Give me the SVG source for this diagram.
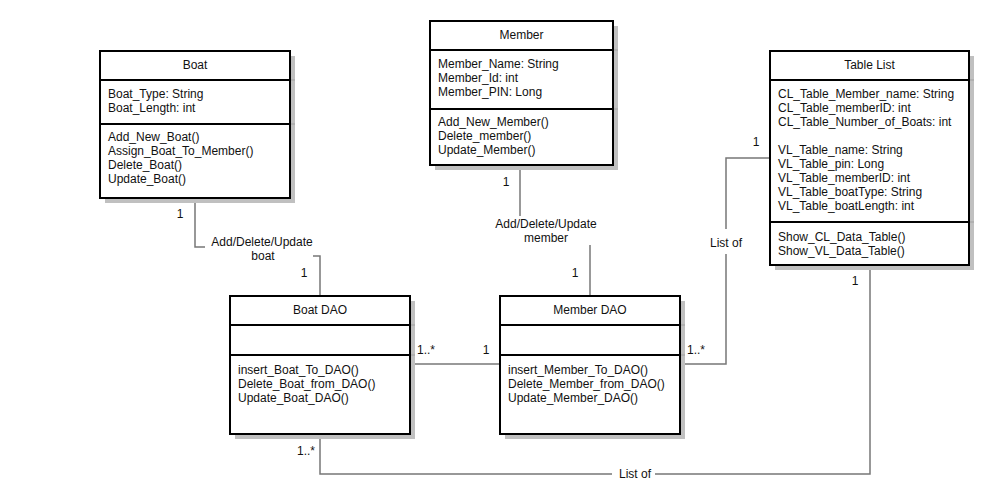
<svg xmlns="http://www.w3.org/2000/svg" width="998" height="502" viewBox="0 0 998 502">
<style>
text{font-family:"Liberation Sans",Arial,sans-serif;font-size:12px;fill:#111}
.t{text-anchor:middle}
.c{text-anchor:middle}
.box{fill:#fff;stroke:#000;stroke-width:2}
.sh{fill:#c0c0c0}
.dv{stroke:#000;stroke-width:2}
.dvs{stroke:#a0a0a0;stroke-width:1}
.ln{fill:none;stroke:#777;stroke-width:1.5}
</style>
<rect width="998" height="502" fill="#fff"/>
<g id="connectors">
<polyline class="ln" points="195,199 195,247 205,247"/>
<polyline class="ln" points="313,256 320,256 320,295"/>
<line class="ln" x1="520" y1="166" x2="520" y2="216"/>
<line class="ln" x1="590" y1="245" x2="590" y2="295"/>
<line class="ln" x1="411" y1="364" x2="499" y2="364"/>
<polyline class="ln" points="681,364 726,364 726,254"/>
<polyline class="ln" points="726,229 726,158 769,158"/>
<polyline class="ln" points="870,267 870,474 655,474"/>
<polyline class="ln" points="612,474 320,474 320,435"/>
<text x="180" y="218" class="c">1</text>
<text x="262" y="246" class="c">Add/Delete/Update</text>
<text x="263" y="260" class="c">boat</text>
<text x="304" y="277" class="c">1</text>
<text x="506" y="186" class="c">1</text>
<text x="546" y="228" class="c">Add/Delete/Update</text>
<text x="546" y="242" class="c">member</text>
<text x="575" y="277" class="c">1</text>
<text x="426" y="354" class="c">1..*</text>
<text x="486" y="354" class="c">1</text>
<text x="696" y="354" class="c">1..*</text>
<text x="726" y="247" class="c">List of</text>
<text x="756" y="146" class="c">1</text>
<text x="855" y="285" class="c">1</text>
<text x="306" y="455" class="c">1..*</text>
<text x="635" y="478" class="c">List of</text>
</g>
<g id="boat">
<rect class="sh" x="105" y="56" width="190" height="147"/>
<rect class="box" x="100" y="51" width="190" height="147"/>
<line class="dv" x1="100" y1="80" x2="290" y2="80"/>
<line class="dv" x1="100" y1="124" x2="290" y2="124"/>
<line class="dvs" x1="291" y1="80" x2="295" y2="80"/>
<line class="dvs" x1="291" y1="124" x2="295" y2="124"/>
<text x="195" y="69" class="t">Boat</text>
<text x="108" y="98">Boat_Type: String</text>
<text x="108" y="112">Boat_Length: int</text>
<text x="108" y="141">Add_New_Boat()</text>
<text x="108" y="155">Assign_Boat_To_Member()</text>
<text x="108" y="169">Delete_Boat()</text>
<text x="108" y="183">Update_Boat()</text>
</g>
<g id="member">
<rect class="sh" x="435" y="26" width="183" height="144"/>
<rect class="box" x="430" y="21" width="183" height="144"/>
<line class="dv" x1="430" y1="50" x2="613" y2="50"/>
<line class="dv" x1="430" y1="109" x2="613" y2="109"/>
<line class="dvs" x1="614" y1="50" x2="618" y2="50"/>
<line class="dvs" x1="614" y1="109" x2="618" y2="109"/>
<text x="521.5" y="39" class="t">Member</text>
<text x="438" y="68">Member_Name: String</text>
<text x="438" y="82">Member_Id: int</text>
<text x="438" y="96">Member_PIN: Long</text>
<text x="438" y="126">Add_New_Member()</text>
<text x="438" y="140">Delete_member()</text>
<text x="438" y="154">Update_Member()</text>
</g>
<g id="tablelist">
<rect class="sh" x="775" y="56" width="199" height="214"/>
<rect class="box" x="770" y="51" width="199" height="214"/>
<line class="dv" x1="770" y1="80" x2="969" y2="80"/>
<line class="dv" x1="770" y1="222" x2="969" y2="222"/>
<line class="dvs" x1="970" y1="80" x2="974" y2="80"/>
<line class="dvs" x1="970" y1="222" x2="974" y2="222"/>
<text x="869.5" y="69" class="t">Table List</text>
<text x="778" y="98">CL_Table_Member_name: String</text>
<text x="778" y="112">CL_Table_memberID: int</text>
<text x="778" y="126">CL_Table_Number_of_Boats: int</text>
<text x="778" y="154">VL_Table_name: String</text>
<text x="778" y="168">VL_Table_pin: Long</text>
<text x="778" y="182">VL_Table_memberID: int</text>
<text x="778" y="196">VL_Table_boatType: String</text>
<text x="778" y="210">VL_Table_boatLength: int</text>
<text x="778" y="241">Show_CL_Data_Table()</text>
<text x="778" y="255">Show_VL_Data_Table()</text>
</g>
<g id="boatdao">
<rect class="sh" x="235" y="301" width="180" height="138"/>
<rect class="box" x="230" y="296" width="180" height="138"/>
<line class="dv" x1="230" y1="325" x2="410" y2="325"/>
<line class="dv" x1="230" y1="355" x2="410" y2="355"/>
<line class="dvs" x1="411" y1="325" x2="415" y2="325"/>
<line class="dvs" x1="411" y1="355" x2="415" y2="355"/>
<text x="320" y="314" class="t">Boat DAO</text>
<text x="238" y="374">insert_Boat_To_DAO()</text>
<text x="238" y="388">Delete_Boat_from_DAO()</text>
<text x="238" y="402">Update_Boat_DAO()</text>
</g>
<g id="memberdao">
<rect class="sh" x="505" y="301" width="180" height="138"/>
<rect class="box" x="500" y="296" width="180" height="138"/>
<line class="dv" x1="500" y1="325" x2="680" y2="325"/>
<line class="dv" x1="500" y1="355" x2="680" y2="355"/>
<line class="dvs" x1="681" y1="325" x2="685" y2="325"/>
<line class="dvs" x1="681" y1="355" x2="685" y2="355"/>
<text x="590" y="314" class="t">Member DAO</text>
<text x="508" y="374">insert_Member_To_DAO()</text>
<text x="508" y="388">Delete_Member_from_DAO()</text>
<text x="508" y="402">Update_Member_DAO()</text>
</g>
</svg>
